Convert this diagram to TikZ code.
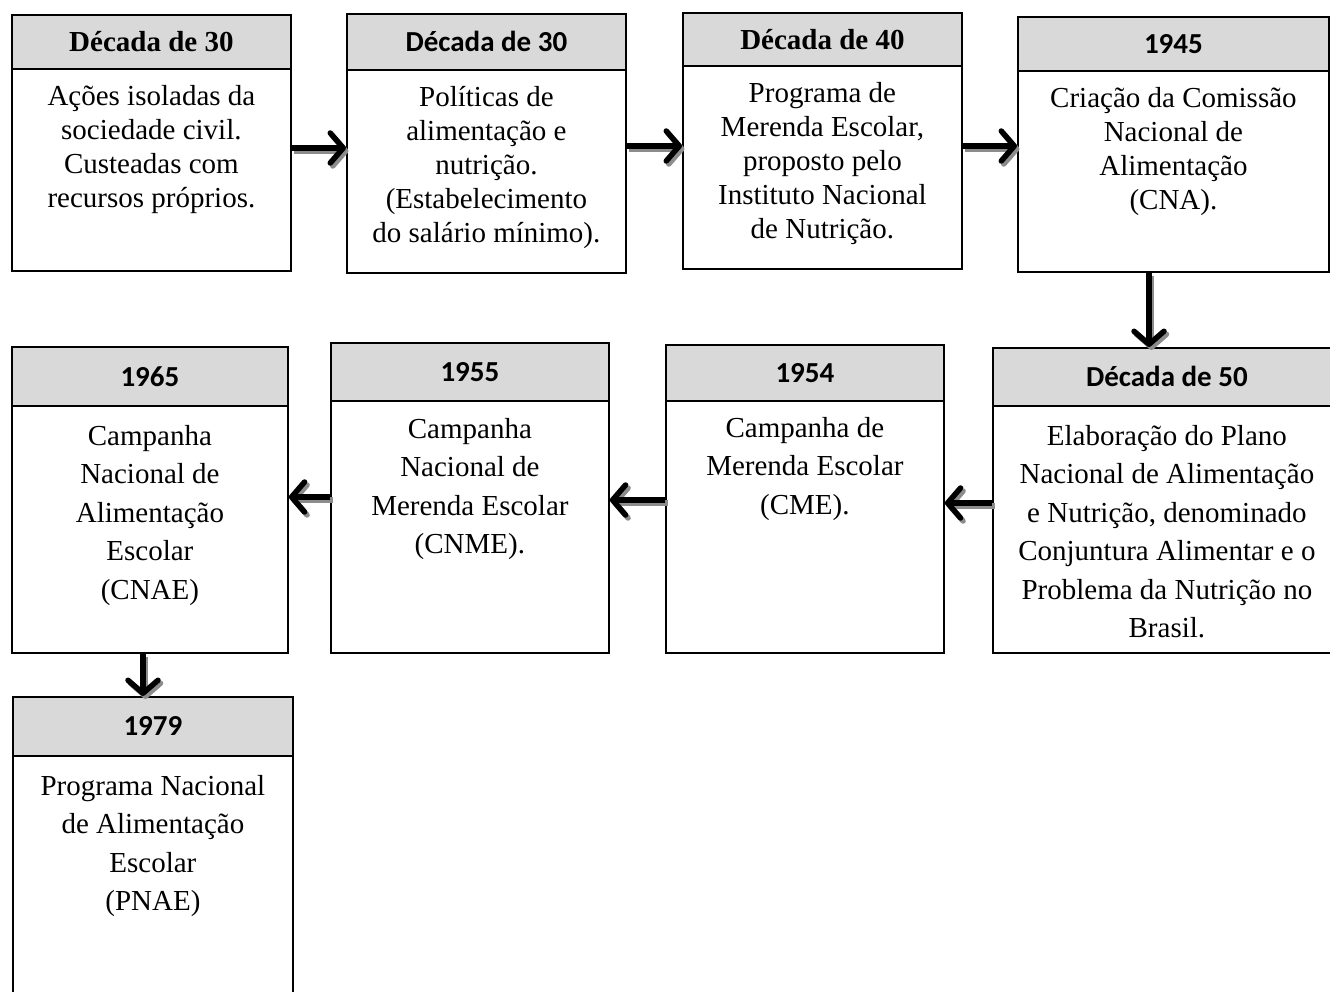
\documentclass[tikz,border=0pt]{standalone}
\usepackage{fontspec}
\setmainfont{Liberation Serif}
\newfontfamily\carl{Carlito}
\usetikzlibrary{arrows.meta}
\begin{document}
\begin{tikzpicture}[x=1pt,y=-1pt,
  hdr/.style={draw, line width=1.8pt, fill=black!15, inner sep=0pt, anchor=north west,
    font=\carl\bfseries\fontsize{29}{34}\selectfont},
  hdrT/.style={hdr, font=\bfseries\fontsize{29}{34}\selectfont},
  bod/.style={draw, line width=1.8pt, fill=white, inner sep=0pt, anchor=north west},
  txtA/.style={anchor=north, inner sep=0pt, align=center, font=\fontsize{29}{34}\selectfont},
  txtB/.style={anchor=north, inner sep=0pt, align=center, font=\fontsize{29}{38.5}\selectfont},
  arr/.style={line width=5.5pt, -{Straight Barb[length=13pt,width=30pt,round]}},
  shd/.style={arr, draw=black!45, transform canvas={xshift=2.5pt,yshift=-3pt}}
]
\useasboundingbox (0,0) rectangle (1330,992);

% Box 1
\node[bod, minimum width=279pt, minimum height=202pt] (b1) at (11,68) {};
\node[hdrT, minimum width=279pt, minimum height=54pt] (h1) at (11,14) {Década de 30};
\node[txtA] (t1) at ([yshift=-14pt]b1.north) {\strut Ações isoladas da\\ sociedade civil.\\ Custeadas com\\ recursos próprios.};

% Box 2
\node[bod, minimum width=279pt, minimum height=203pt] (b2) at (346,69) {};
\node[hdr, minimum width=279pt, minimum height=56pt] (h2) at (346,13) {Década de 30};
\node[txtA] (t2) at ([yshift=-14pt]b2.north) {\strut Políticas de\\ alimentação e\\ nutrição.\\ (Estabelecimento\\ do salário mínimo).};

% Box 3
\node[bod, minimum width=279pt, minimum height=203pt] (b3) at (682,65) {};
\node[hdrT, minimum width=279pt, minimum height=53pt] (h3) at (682,12) {Década de 40};
\node[txtA] (t3) at ([yshift=-14pt]b3.north) {\strut Programa de\\ Merenda Escolar,\\ proposto pelo\\ Instituto Nacional\\ de Nutrição.};

% Box 4
\node[bod, minimum width=311pt, minimum height=201pt] (b4) at (1017,70) {};
\node[hdr, minimum width=311pt, minimum height=54pt] (h4) at (1017,16) {1945};
\node[txtA] (t4) at ([yshift=-14pt]b4.north) {\strut Criação da Comissão\\ Nacional de\\ Alimentação\\ (CNA).};

% Box 5
\node[bod, minimum width=348pt, minimum height=247pt] (b5) at (992,405) {};
\node[hdr, minimum width=348pt, minimum height=58pt] (h5) at (992,347) {Década de 50};
\node[txtB] (t5) at ([yshift=-13pt]b5.north) {\strut Elaboração do Plano\\ Nacional de Alimentação\\ e Nutrição, denominado\\ Conjuntura Alimentar e o\\ Problema da Nutrição no\\ Brasil.};

% Box 6
\node[bod, minimum width=278pt, minimum height=252pt] (b6) at (665,400) {};
\node[hdr, minimum width=278pt, minimum height=56pt] (h6) at (665,344) {1954};
\node[txtB] (t6) at ([yshift=-10pt]b6.north) {\strut Campanha de\\ Merenda Escolar\\ (CME).};

% Box 7
\node[bod, minimum width=278pt, minimum height=252pt] (b7) at (330,400) {};
\node[hdr, minimum width=278pt, minimum height=58pt] (h7) at (330,342) {1955};
\node[txtB] (t7) at ([yshift=-11pt]b7.north) {\strut Campanha\\ Nacional de\\ Merenda Escolar\\ (CNME).};

% Box 8
\node[bod, minimum width=276pt, minimum height=247pt] (b8) at (11,405) {};
\node[hdr, minimum width=276pt, minimum height=59pt] (h8) at (11,346) {1965};
\node[txtB] (t8) at ([yshift=-13pt]b8.north) {\strut Campanha\\ Nacional de\\ Alimentação\\ Escolar\\ (CNAE)};

% Box 9
\node[bod, minimum width=280pt, minimum height=260pt] (b9) at (12,755) {};
\node[hdr, minimum width=280pt, minimum height=59pt] (h9) at (12,696) {1979};
\node[txtB] (t9) at ([yshift=-13pt]b9.north) {\strut Programa Nacional\\ de Alimentação\\ Escolar\\ (PNAE)};

% Arrows (shadow first)
\draw[shd] (b1.east |- 0,148) -- (b2.west |- 0,148);
\draw[arr] (b1.east |- 0,148) -- (b2.west |- 0,148);
\draw[shd] (b2.east |- 0,146) -- (b3.west |- 0,146);
\draw[arr] (b2.east |- 0,146) -- (b3.west |- 0,146);
\draw[shd] (b3.east |- 0,146) -- (b4.west |- 0,146);
\draw[arr] (b3.east |- 0,146) -- (b4.west |- 0,146);
\draw[shd] (b4.south -| 1149,0) -- (h5.north -| 1149,0);
\draw[arr] (b4.south -| 1149,0) -- (h5.north -| 1149,0);
\draw[shd] (b5.west |- 0,503) -- (b6.east |- 0,503);
\draw[arr] (b5.west |- 0,503) -- (b6.east |- 0,503);
\draw[shd] (b6.west |- 0,500) -- (b7.east |- 0,500);
\draw[arr] (b6.west |- 0,500) -- (b7.east |- 0,500);
\draw[shd] (b7.west |- 0,497) -- (b8.east |- 0,497);
\draw[arr] (b7.west |- 0,497) -- (b8.east |- 0,497);
\draw[shd] (b8.south -| 143,0) -- (h9.north -| 143,0);
\draw[arr] (b8.south -| 143,0) -- (h9.north -| 143,0);
\end{tikzpicture}
\end{document}
